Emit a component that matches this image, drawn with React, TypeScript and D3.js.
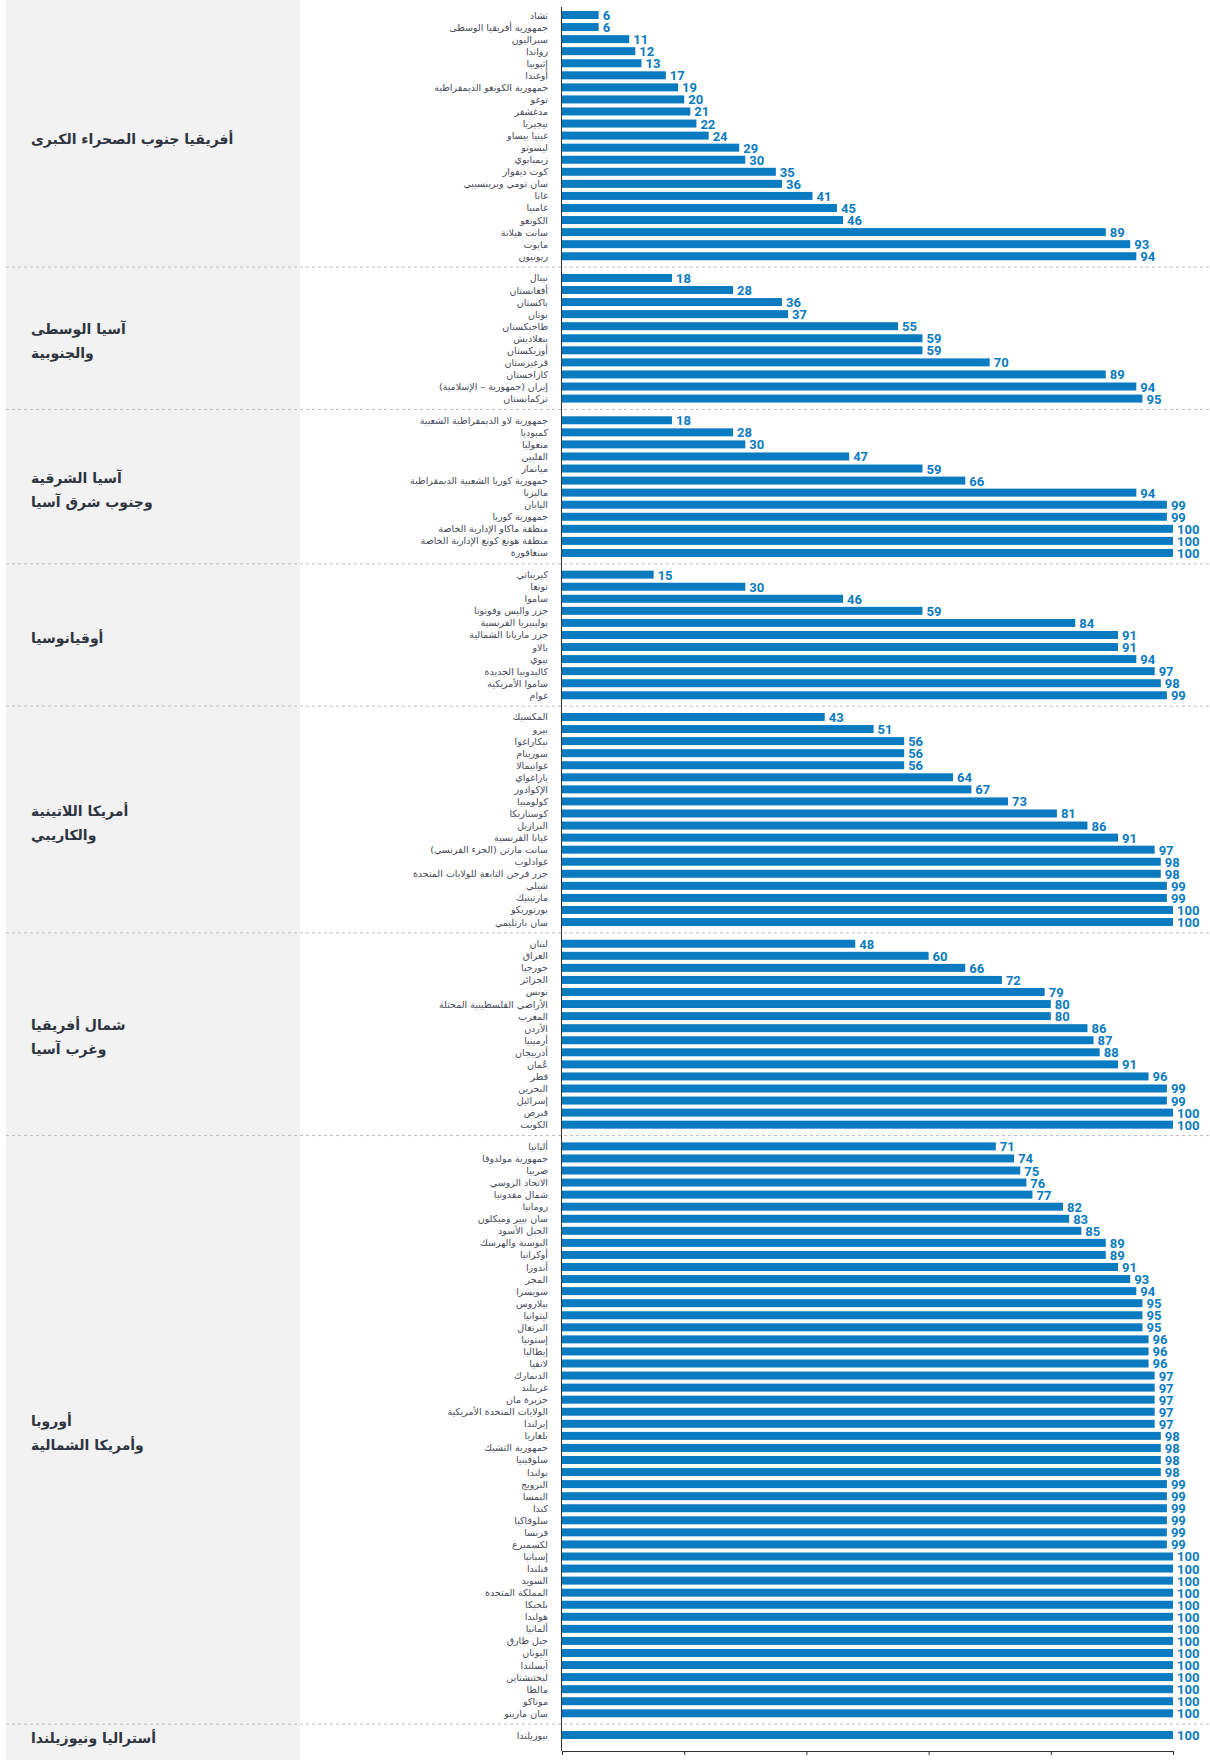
import { useEffect, useRef } from 'react';
import * as d3 from 'd3';

// region labels (one entry per line)
const regionLabels: string[][] = [
    ['أفريقيا جنوب الصحراء الكبرى'],
    ['آسيا الوسطى', 'والجنوبية'],
    ['آسيا الشرقية', 'وجنوب شرق آسيا'],
    ['أوقيانوسيا'],
    ['أمريكا اللاتينية', 'والكاريبي'],
    ['شمال أفريقيا', 'وغرب آسيا'],
    ['أوروبا', 'وأمريكا الشمالية'],
    ['أستراليا ونيوزيلندا'],
];

const africaCountries = ['تشاد', 'جمهورية أفريقيا الوسطى', 'سيراليون', 'رواندا', 'إثيوبيا', 'أوغندا', 'جمهورية الكونغو الديمقراطية', 'توغو', 'مدغشقر', 'نيجيريا', 'غينيا بيساو', 'ليسوتو', 'زيمبابوي', 'كوت ديفوار', 'سان تومي وبرينسيبي', 'غانا', 'غامبيا', 'الكونغو', 'سانت هيلانة', 'مايوت', 'ريونيون'];
const africaValues = [6, 6, 11, 12, 13, 17, 19, 20, 21, 22, 24, 29, 30, 35, 36, 41, 45, 46, 89, 93, 94];

const centralAsiaCountries = ['نيبال', 'أفغانستان', 'باكستان', 'بوتان', 'طاجيكستان', 'بنغلاديش', 'أوزبكستان', 'قرغيزستان', 'كازاخستان', 'إيران (جمهورية – الإسلامية)', 'تركمانستان'];
const centralAsiaValues = [18, 28, 36, 37, 55, 59, 59, 70, 89, 94, 95];

const eastAsiaCountries = ['جمهورية لاو الديمقراطية الشعبية', 'كمبوديا', 'منغوليا', 'الفلبين', 'ميانمار', 'جمهورية كوريا الشعبية الديمقراطية', 'ماليزيا', 'اليابان', 'جمهورية كوريا', 'منطقة ماكاو الإدارية الخاصة', 'منطقة هونغ كونغ الإدارية الخاصة', 'سنغافورة'];
const eastAsiaValues = [18, 28, 30, 47, 59, 66, 94, 99, 99, 100, 100, 100];

const oceaniaCountries = ['كيريباتي', 'تونغا', 'ساموا', 'جزر واليس وفوتونا', 'بولينيزيا الفرنسية', 'جزر ماريانا الشمالية', 'بالاو', 'نيوي', 'كاليدونيا الجديدة', 'ساموا الأمريكية', 'غوام'];
const oceaniaValues = [15, 30, 46, 59, 84, 91, 91, 94, 97, 98, 99];

const latinCountries = ['المكسيك', 'بيرو', 'نيكاراغوا', 'سورينام', 'غواتيمالا', 'باراغواي', 'الإكوادور', 'كولومبيا', 'كوستاريكا', 'البرازيل', 'غيانا الفرنسية', 'سانت مارتن (الجزء الفرنسي)', 'غوادلوب', 'جزر فرجن التابعة للولايات المتحدة', 'شيلي', 'مارتينيك', 'بورتوريكو', 'سان بارتليمي'];
const latinValues = [43, 51, 56, 56, 56, 64, 67, 73, 81, 86, 91, 97, 98, 98, 99, 99, 100, 100];

const northAfricaCountries = ['لبنان', 'العراق', 'جورجيا', 'الجزائر', 'تونس', 'الأراضي الفلسطينية المحتلة', 'المغرب', 'الأردن', 'أرمينيا', 'أذربيجان', 'عُمان', 'قطر', 'البحرين', 'إسرائيل', 'قبرص', 'الكويت'];
const northAfricaValues = [48, 60, 66, 72, 79, 80, 80, 86, 87, 88, 91, 96, 99, 99, 100, 100];

const europeCountries = ['ألبانيا', 'جمهورية مولدوفا', 'صربيا', 'الاتحاد الروسي', 'شمال مقدونيا', 'رومانيا', 'سان بيير وميكلون', 'الجبل الأسود', 'البوسنة والهرسك', 'أوكرانيا', 'أندورا', 'المجر', 'سويسرا', 'بيلاروس', 'ليتوانيا', 'البرتغال', 'إستونيا', 'إيطاليا', 'لاتفيا', 'الدنمارك', 'غرينلند', 'جزيرة مان', 'الولايات المتحدة الأمريكية', 'إيرلندا', 'بلغاريا', 'جمهورية التشيك', 'سلوفينيا', 'بولندا', 'النرويج', 'النمسا', 'كندا', 'سلوفاكيا', 'فرنسا', 'لكسمبرغ', 'إسبانيا', 'فنلندا', 'السويد', 'المملكة المتحدة', 'بلجيكا', 'هولندا', 'ألمانيا', 'جبل طارق', 'اليونان', 'آيسلندا', 'ليختنشتاين', 'مالطا', 'موناكو', 'سان مارينو'];
const europeValues = [71, 74, 75, 76, 77, 82, 83, 85, 89, 89, 91, 93, 94, 95, 95, 95, 96, 96, 96, 97, 97, 97, 97, 97, 98, 98, 98, 98, 99, 99, 99, 99, 99, 99, 100, 100, 100, 100, 100, 100, 100, 100, 100, 100, 100, 100, 100, 100];

const anzCountries = ['نيوزيلندا'];
const anzValues = [100];

const axisTicks = [0, 20, 40, 60, 80, 100];

const groups = [
    { countries: africaCountries, values: africaValues },
    { countries: centralAsiaCountries, values: centralAsiaValues },
    { countries: eastAsiaCountries, values: eastAsiaValues },
    { countries: oceaniaCountries, values: oceaniaValues },
    { countries: latinCountries, values: latinValues },
    { countries: northAfricaCountries, values: northAfricaValues },
    { countries: europeCountries, values: europeValues },
    { countries: anzCountries, values: anzValues },
];

const WIDTH = 1210;
const HEIGHT = 1760;
const BLUE = '#0b7bc1';
const GAP = 0.8; // extra row slots between regions

export default function App() {
    const axisRef = useRef<SVGGElement>(null);

    // flatten rows, each with a slot index used by the y scale
    let idx = 0;
    const rows = groups.flatMap((g, gi) =>
        g.countries.map((name, i) => ({ name, value: g.values[i], group: gi, slot: idx++ + gi * GAP }))
    );
    const lastSlot = rows[rows.length - 1].slot;

    const x = d3.scaleLinear().domain([0, 100]).range([562, 1173]);
    const y = d3.scaleLinear().domain([0, lastSlot]).range([15, 1735]);
    const barH = 8;

    const groupSpans = groups.map((_, gi) => {
        const gr = rows.filter(r => r.group === gi);
        return { first: gr[0].slot, last: gr[gr.length - 1].slot };
    });

    useEffect(() => {
        if (!axisRef.current) return;
        const g = d3.select(axisRef.current);
        g.selectAll('*').remove();
        g.call(
            d3.axisBottom(x)
                .tickValues(axisTicks)
                .tickFormat(() => '')
                .tickSize(4)
                .tickSizeOuter(0)
        );
        g.select('.domain').attr('stroke', '#333');
        g.selectAll('.tick line').attr('stroke', '#333');
    }, []);

    return (
        <div style={{ position: 'absolute', left: 0, top: 0 }}>
            <svg width={WIDTH} height={HEIGHT} style={{ display: 'block', background: '#fff' }}>
                <rect x={6} y={0} width={294} height={HEIGHT} fill="#f2f2f2" />

                {/* dashed separators between regions */}
                {groupSpans.slice(0, -1).map((s, gi) => {
                    const yy = (y(s.last) + y(groupSpans[gi + 1].first)) / 2;
                    return (
                        <line key={gi} x1={6} x2={WIDTH} y1={yy} y2={yy}
                            stroke="#bdbdbd" strokeWidth={1} strokeDasharray="3,3" />
                    );
                })}

                {/* region labels */}
                {groupSpans.map((s, gi) => {
                    const lines = regionLabels[gi];
                    const mid = (y(s.first) + y(s.last)) / 2 + 3;
                    const lh = 24;
                    return lines.map((ln, li) => (
                        <text key={`${gi}-${li}`} x={31} y={mid + (li - (lines.length - 1) / 2) * lh}
                            dominantBaseline="central" fontFamily="'DejaVu Sans', sans-serif"
                            fontWeight="bold" fontSize={14} fill="#2e3440">
                            {ln}
                        </text>
                    ));
                })}

                {/* country labels */}
                {rows.map(r => (
                    <text key={`l-${r.slot}`} x={548} y={y(r.slot)} textAnchor="end"
                        dominantBaseline="central" fontFamily="'DejaVu Sans', sans-serif"
                        fontSize={9.5} fill="#454a57">
                        {'\u2067' + r.name + '\u2069'}
                    </text>
                ))}

                {/* bars */}
                {rows.map(r => (
                    <rect key={`b-${r.slot}`} x={x(0)} y={y(r.slot) - barH / 2}
                        width={x(r.value) - x(0)} height={barH} fill={BLUE} />
                ))}

                {/* values */}
                {rows.map(r => (
                    <text key={`v-${r.slot}`} x={x(r.value) + 4} y={y(r.slot) + 0.5}
                        dominantBaseline="central" fontFamily="Roboto, sans-serif"
                        fontWeight="bold" fontSize={13} fill={BLUE}>
                        {r.value}
                    </text>
                ))}

                <line x1={561.5} x2={561.5} y1={7} y2={1751} stroke="#333" strokeWidth={1} />
                <g ref={axisRef} transform="translate(0,1751)" />
            </svg>
        </div>
    );
}
